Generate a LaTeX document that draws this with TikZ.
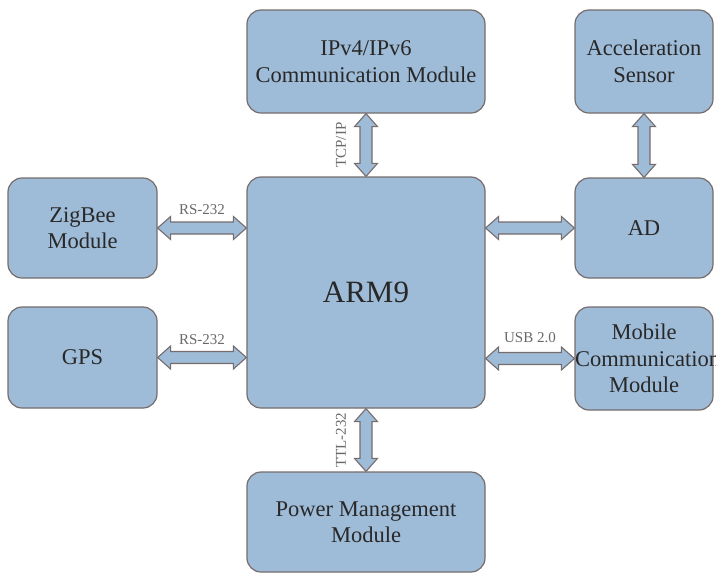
\documentclass[tikz,border=0pt]{standalone}
\usepackage{fontspec}
\setmainfont{Liberation Serif}
\usetikzlibrary{calc}
\definecolor{boxfill}{RGB}{158,187,215}
\definecolor{boxline}{RGB}{118,108,108}
\definecolor{lblcol}{RGB}{105,105,105}
\definecolor{txtcol}{RGB}{40,40,40}
\newcommand\myvarrow[2]{%
  \draw[dblarrow] (#1) -- ($(#1)+(11.5,13)$) -- ($(#1)+(6,13)$) -- ($(#2)+(6,-13)$) -- ($(#2)+(11.5,-13)$) -- (#2)
   -- ($(#2)+(-11.5,-13)$) -- ($(#2)+(-6,-13)$) -- ($(#1)+(-6,13)$) -- ($(#1)+(-11.5,13)$) -- cycle;}
\newcommand\myharrow[2]{%
  \draw[dblarrow] (#1) -- ($(#1)+(13,-11.5)$) -- ($(#1)+(13,-6)$) -- ($(#2)+(-13,-6)$) -- ($(#2)+(-13,-11.5)$) -- (#2)
   -- ($(#2)+(-13,11.5)$) -- ($(#2)+(-13,6)$) -- ($(#1)+(13,6)$) -- ($(#1)+(13,11.5)$) -- cycle;}
\begin{document}
\begin{tikzpicture}[x=1pt,y=-1pt,
  blk/.style={draw=boxline, line width=1.2pt, fill=boxfill, rounded corners=14pt,
    align=center, text=txtcol, font=\fontsize{22.5}{26.5}\selectfont, inner sep=0pt},
  dblarrow/.style={draw=boxline, line width=1.1pt, fill=boxfill, line join=miter},
  lbl/.style={text=lblcol, font=\fontsize{15}{17}\selectfont, inner sep=0pt}]
\useasboundingbox (0,0) rectangle (716,574);
\node[blk, minimum width=238pt, minimum height=103pt] (ipv) at (366,61.5) {IPv4/IPv6\\Communication Module};
\node[blk, minimum width=138pt, minimum height=103pt] (acc) at (644,61.5) {Acceleration\\Sensor};
\node[blk, minimum width=149pt, minimum height=100pt] (zig) at (82.5,228) {ZigBee\\Module};
\node[blk, minimum width=238pt, minimum height=231pt, font=\fontsize{31}{36}\selectfont] (arm) at (366,292.5) {ARM9};
\node[blk, minimum width=138pt, minimum height=100pt] (ad) at (644,228) {AD};
\node[blk, minimum width=149pt, minimum height=101pt] (gps) at (82.5,357.5) {GPS};
\node[blk, text width=138pt, minimum height=103pt] (mob) at (644,358.5) {Mobile\\Communication\\Module};
\node[blk, minimum width=238pt, minimum height=100pt] (pwr) at (366,522) {Power Management\\Module};
\coordinate (zigR) at (zig.east -| arm.west);
\coordinate (gpsR) at (gps.east -| arm.west);
\coordinate (adL) at (arm.east |- ad.west);
\coordinate (mobL) at (arm.east |- mob.west);
\myvarrow{ipv.south}{arm.north}
\myvarrow{acc.south}{ad.north}
\myvarrow{arm.south}{pwr.north}
\myharrow{zig.east}{zigR}
\myharrow{gps.east}{gpsR}
\myharrow{adL}{ad.west}
\myharrow{mobL}{mob.west}
\node[lbl, rotate=90] (ltcp) at (341,145) {TCP/IP};
\node[lbl, rotate=90] (lttl) at (341,440) {TTL-232};
\node[lbl] (lrs1) at (202,210) {RS-232};
\node[lbl] (lrs2) at (202,340) {RS-232};
\node[lbl] (lusb) at (530,338) {USB 2.0};
\end{tikzpicture}
\end{document}
